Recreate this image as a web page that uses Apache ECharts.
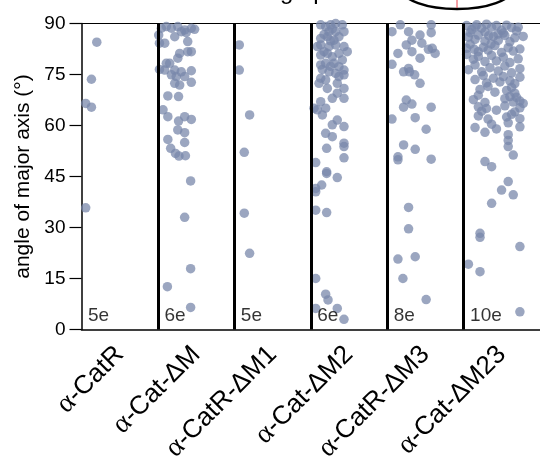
<!DOCTYPE html>
<html>
<head>
<meta charset="utf-8">
<script src="https://cdn.jsdelivr.net/npm/echarts@6/dist/echarts.min.js"></script>
<style>
  html, body { margin: 0; padding: 0; background: #fff; }
  #main { width: 540px; height: 465px; }
</style>
</head>
<body>
<div id="main"></div>
<script>
// categories along x, with number of embryos per group
const categories = ['α-CatR', 'α-Cat-ΔM', 'α-CatR-ΔM1', 'α-Cat-ΔM2', 'α-CatR-ΔM3', 'α-Cat-ΔM23'];
const counts = ['5e', '6e', '5e', '6e', '8e', '10e'];
const yTicks = [0, 15, 30, 45, 60, 75, 90];

// each point: [offset inside the group (0..1), angle in degrees]
const catR = [[0.20, 84.5], [0.13, 73.6], [0.055, 66.5], [0.13, 65.4], [0.055, 35.8]];

const catDM = [
  [0.01, 86.6], [0.045, 88.6], [0.11, 89.1], [0.176, 88.6], [0.26, 89.1], [0.35, 88.1], [0.437, 88.6], [0.48, 88.3],
  [0.02, 84.2], [0.089, 84.2], [0.22, 86.1], [0.306, 87.6], [0.37, 87.3], [0.39, 84.7], [0.437, 81.7], [0.39, 81.7],
  [0.285, 81.2], [0.26, 79.8], [0.11, 78.3], [0.154, 78.3], [0.089, 76.3], [0.02, 76.5], [0.22, 76.3], [0.306, 75.8],
  [0.437, 76.1], [0.176, 74.9], [0.24, 74.4], [0.35, 74.4], [0.22, 72.4], [0.285, 71.9], [0.437, 72.7], [0.13, 68.7],
  [0.27, 68.5], [0.067, 64.6], [0.13, 62.6], [0.35, 62.6], [0.437, 61.8], [0.27, 61.3], [0.26, 58.7], [0.35, 57.9],
  [0.13, 55.9], [0.35, 55.0], [0.167, 53.3], [0.23, 51.8], [0.276, 51.0], [0.36, 51.1], [0.428, 43.7], [0.35, 33.0],
  [0.428, 17.9], [0.124, 12.6], [0.428, 6.5]
];

const catRDM1 = [[0.065, 83.7], [0.065, 76.3], [0.20, 63.1], [0.13, 52.1], [0.13, 34.2], [0.20, 22.4]];

const catDM2 = [
  [0.13, 89.6], [0.195, 89.1], [0.26, 89.6], [0.326, 90.0], [0.413, 89.6], [0.239, 87.6], [0.326, 87.6], [0.435, 87.6],
  [0.13, 85.6], [0.217, 86.1], [0.369, 86.1], [0.304, 85.1], [0.13, 83.7], [0.239, 83.2], [0.326, 83.7], [0.435, 83.2],
  [0.478, 81.7], [0.174, 81.7], [0.13, 80.7], [0.217, 81.2], [0.282, 80.2], [0.369, 81.2], [0.413, 79.3], [0.13, 77.8],
  [0.195, 78.3], [0.304, 78.3], [0.369, 77.3], [0.435, 76.3], [0.239, 75.8], [0.326, 75.3], [0.369, 74.4], [0.435, 74.9],
  [0.13, 73.9], [0.195, 73.4], [0.108, 72.4], [0.217, 70.9], [0.347, 72.4], [0.435, 70.9], [0.347, 69.5], [0.282, 68.0],
  [0.435, 68.0], [0.13, 67.0], [0.043, 65.1], [0.087, 64.6], [0.195, 65.1], [0.152, 63.1], [0.347, 61.6], [0.282, 60.2],
  [0.435, 59.7], [0.195, 57.7], [0.282, 56.7], [0.435, 54.8], [0.435, 53.8], [0.208, 53.3], [0.435, 50.5], [0.065, 49.1],
  [0.208, 46.4], [0.208, 45.9], [0.347, 44.7], [0.143, 42.5], [0.065, 41.5], [0.065, 40.5], [0.065, 35.1], [0.208, 34.4],
  [0.065, 15.0], [0.195, 10.4], [0.226, 8.7], [0.065, 6.2], [0.347, 6.2], [0.435, 3.0],
  [0.087, 83.2], [0.26, 84.9], [0.174, 86.8], [0.282, 88.4], [0.152, 76.5], [0.26, 77.4]
];

const catRDM3 = [
  [0.172, 89.6], [0.576, 89.6], [0.063, 87.6], [0.28, 87.6], [0.43, 86.6], [0.576, 87.3], [0.324, 85.1], [0.25, 83.7],
  [0.454, 84.2], [0.54, 82.4], [0.59, 82.7], [0.628, 81.2], [0.141, 81.2], [0.324, 81.7], [0.43, 79.8], [0.063, 78.0],
  [0.215, 75.8], [0.28, 76.8], [0.293, 75.8], [0.36, 74.9], [0.43, 72.4], [0.25, 67.5], [0.215, 65.4], [0.324, 66.3],
  [0.576, 65.4], [0.063, 61.9], [0.367, 62.3], [0.51, 58.9], [0.215, 54.3], [0.367, 53.0], [0.141, 50.8], [0.141, 49.9],
  [0.576, 50.1], [0.28, 35.9], [0.28, 29.6], [0.141, 20.7], [0.367, 21.4], [0.206, 15.0], [0.51, 8.8]
];

const catDM23 = [
  [0.04, 89.4], [0.107, 88.2], [0.172, 89.6], [0.237, 88.6], [0.30, 89.8], [0.367, 88.9], [0.43, 89.4], [0.497, 88.0],
  [0.563, 89.5], [0.628, 88.8], [0.693, 87.8], [0.085, 87.3], [0.28, 87.5], [0.52, 87.2], [0.45, 86.9], [0.15, 89.0],
  [0.063, 86.0], [0.15, 85.3], [0.193, 86.6], [0.28, 84.8], [0.39, 86.2], [0.454, 85.0], [0.54, 86.5], [0.606, 84.6],
  [0.67, 85.8], [0.78, 86.2], [0.33, 86.4], [0.715, 88.9],
  [0.04, 82.7], [0.085, 83.9], [0.193, 81.7], [0.258, 83.0], [0.32, 82.2], [0.41, 83.5], [0.497, 81.5], [0.584, 82.9],
  [0.65, 81.9], [0.737, 82.5], [0.14, 82.4], [0.36, 84.0],
  [0.04, 80.9], [0.128, 79.5], [0.193, 80.3], [0.28, 78.8], [0.367, 80.6], [0.43, 79.0], [0.52, 80.1], [0.606, 78.5],
  [0.715, 79.6], [0.063, 76.4], [0.15, 77.8], [0.237, 75.8], [0.345, 77.0], [0.454, 76.0], [0.54, 77.5], [0.628, 75.5],
  [0.737, 76.7], [0.15, 73.5], [0.258, 74.7], [0.30, 72.5], [0.39, 73.9], [0.476, 72.8], [0.52, 74.4], [0.606, 73.1],
  [0.67, 72.3], [0.737, 74.2], [0.215, 70.6], [0.32, 71.5], [0.41, 69.8], [0.563, 70.3], [0.628, 71.2], [0.67, 69.5],
  [0.128, 67.6], [0.193, 68.9], [0.28, 66.8], [0.54, 67.9], [0.606, 68.5], [0.65, 66.9], [0.693, 68.3], [0.737, 67.2],
  [0.78, 66.5], [0.193, 65.5], [0.237, 64.2], [0.30, 65.0], [0.43, 64.5], [0.54, 65.8], [0.67, 64.0], [0.737, 65.2],
  [0.193, 62.8], [0.32, 61.9], [0.563, 62.5], [0.628, 63.3], [0.737, 62.0], [0.15, 59.4], [0.367, 60.4], [0.43, 59.0],
  [0.584, 60.8], [0.737, 59.6], [0.28, 58.0], [0.584, 57.3], [0.584, 55.6], [0.584, 53.8], [0.65, 51.3], [0.28, 49.4],
  [0.367, 47.9], [0.584, 43.5], [0.497, 41.0], [0.65, 39.6], [0.367, 37.1], [0.215, 28.3], [0.215, 27.1], [0.737, 24.4],
  [0.063, 19.2], [0.215, 17.0], [0.737, 5.2]
];

const groups = [catR, catDM, catRDM1, catDM2, catRDM3, catDM23];
const separators = [1, 2, 3, 4, 5];

const sans = 'Liberation Sans, Arial, sans-serif';
const pointData = [];
groups.forEach(function (g, i) {
  g.forEach(function (p) { pointData.push([i + p[0], p[1]]); });
});

const chart = echarts.init(document.getElementById('main'));
const option = {
  animation: false,
  backgroundColor: '#fff',
  grid: { left: 81.5, right: -2, top: 23.5, bottom: 135.5, show: false },
  xAxis: [{
    // hidden value axis for the jittered points, its line is the top frame
    type: 'value', min: 0, max: categories.length, position: 'top',
    axisLine: { show: true, onZero: false, lineStyle: { color: '#000', width: 1 } },
    axisTick: { show: false },
    axisLabel: { show: false },
    splitLine: { show: false }
  }, {
    type: 'category',
    data: categories,
    position: 'bottom',
    boundaryGap: true,
    axisLine: { lineStyle: { color: '#000', width: 1.5 } },
    axisTick: { alignWithLabel: true, length: 10, lineStyle: { color: '#000', width: 1.2 } },
    axisLabel: {
      rotate: 45,
      margin: 21,
      interval: 0,
      color: '#000',
      formatter: function (v) { return '{a|α}{b|' + v.slice(1) + '}'; },
      rich: {
        a: { fontFamily: 'Liberation Serif, serif', fontSize: 28, color: '#000' },
        b: { fontFamily: sans, fontSize: 26, color: '#000' }
      }
    },
    splitLine: { show: false }
  }],
  yAxis: {
    type: 'value', min: 0, max: 90, interval: 15,
    name: 'angle of major axis (°)',
    nameLocation: 'middle',
    nameGap: 46,
    nameTextStyle: { fontFamily: sans, fontSize: 21, color: '#000' },
    axisLine: { show: true, lineStyle: { color: '#000', width: 1.5 } },
    axisTick: { show: true, length: 12, lineStyle: { color: '#000', width: 1.2 } },
    axisLabel: {
      fontFamily: sans, fontSize: 19, color: '#000', margin: 16,
      formatter: function (v) { return yTicks.indexOf(v) >= 0 ? String(v) : ''; }
    },
    splitLine: { show: false }
  },
  graphic: [
    { type: 'ellipse', shape: { cx: 457, cy: -11, rx: 55, ry: 20 },
      style: { fill: 'none', stroke: '#000', lineWidth: 2.5 } },
    { type: 'line', shape: { x1: 457, y1: 0, x2: 457, y2: 8 },
      style: { stroke: '#e8404a', lineWidth: 1 } },
    { type: 'text', x: 280, y: -20,
      style: { text: 'g   p', font: '24px Liberation Sans', fill: '#000' } }
  ],
  series: [{
    name: 'separators',
    type: 'scatter',
    xAxisIndex: 0,
    data: [],
    z: 1,
    markLine: {
      silent: true,
      symbol: ['none', 'none'],
      label: { show: false },
      lineStyle: { color: '#000', width: 3, type: 'solid' },
      data: separators.map(function (s) { return { xAxis: s }; })
    }
  }, {
    name: 'angle',
    type: 'scatter',
    xAxisIndex: 0,
    symbolSize: 9.5,
    clip: false,
    z: 3,
    itemStyle: { color: 'rgb(120,135,170)', opacity: 0.74 },
    data: pointData
  }, {
    name: 'counts',
    type: 'scatter',
    xAxisIndex: 0,
    symbolSize: 0,
    z: 4,
    label: {
      show: true, position: 'right', distance: 0,
      fontFamily: sans, fontSize: 19, color: '#000',
      formatter: function (p) { return counts[p.dataIndex]; }
    },
    data: counts.map(function (c, i) { return [i + 0.085, 4.0]; })
  }]
};
chart.setOption(option);
</script>
</body>
</html>
